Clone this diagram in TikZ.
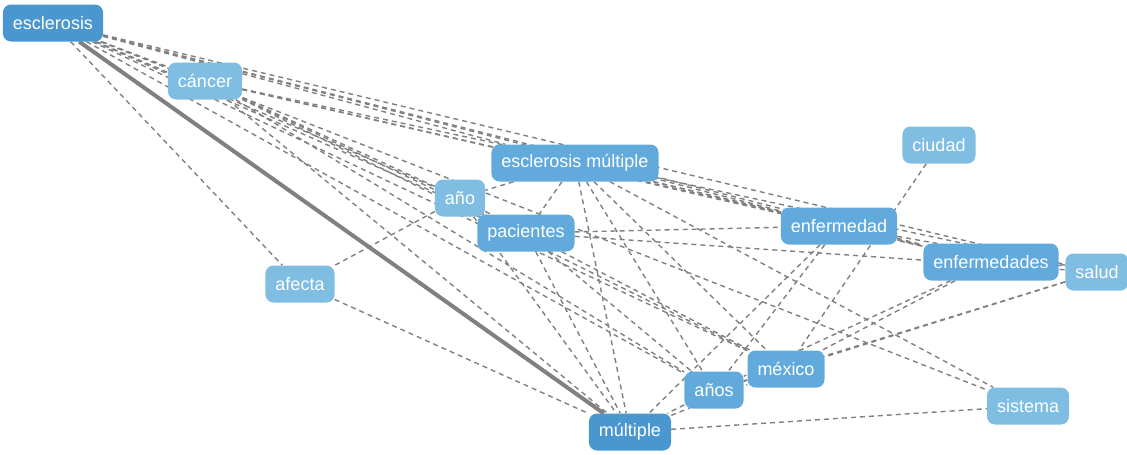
\documentclass[tikz,border=0pt]{standalone}
\usepackage{fontspec}
\setmainfont{Liberation Sans}
\usetikzlibrary{backgrounds}
\definecolor{tagdark}{HTML}{4A97CF}
\definecolor{tagmid}{HTML}{62AADC}
\definecolor{taglight}{HTML}{7FBDE3}
\definecolor{edgegray}{HTML}{808080}
\tikzset{
  tag/.style={rounded corners=8pt, text=white, font=\fontsize{18}{21}\selectfont,
    minimum height=37pt, inner xsep=10pt, fill=#1},
  tag/.default=tagmid,
  link/.style={edgegray, line width=1.4pt, dash pattern=on 5pt off 4pt},
  strong/.style={edgegray, line width=4pt}
}

\begin{document}
\begin{tikzpicture}[x=1pt,y=-1pt]
      \useasboundingbox (0,0) rectangle (1127,455);
      \node [tag=tagdark] (esc) at (53,23) {esclerosis};
      \node [tag=taglight] (can) at (205,81) {cáncer};
      \node [tag] (escm) at (575,163) {esclerosis múltiple};
      \node [tag=taglight] (ano) at (460,198) {año};
      \node [tag] (pac) at (526,233) {pacientes};
      \node [tag=taglight] (afe) at (300,284) {afecta};
      \node [tag=taglight] (ciu) at (939,145) {ciudad};
      \node [tag] (enf) at (839,226) {enfermedad};
      \node [tag] (enfs) at (991,262) {enfermedades};
      \node [tag=taglight] (sal) at (1097,272) {salud};
      \node [tag] (mex) at (786,369) {méxico};
      \node [tag] (anos) at (714,390) {años};
      \node [tag=taglight] (sis) at (1028,406) {sistema};
      \node [tag=tagdark] (mul) at (630,432) {múltiple};

      \begin{scope}[on background layer]
        \draw[strong] (esc) -- (mul);
        \foreach \to in {can,escm,ano,pac,afe,enf,enfs,sal,mex,anos,sis}
          \draw[link] (esc) -- (\to);
        \foreach \to in {enf,enfs,sal,ano,pac,mex,anos,mul}
          \draw[link] (can) -- (\to);
        \foreach \to in {ano,pac,enf,enfs,mex,anos,mul,sis}
          \draw[link] (escm) -- (\to);
        \foreach \to in {afe,pac,mul}
          \draw[link] (ano) -- (\to);
        \foreach \to in {enf,mex,anos,mul,sal}
          \draw[link] (pac) -- (\to);
        \foreach \to in {enfs,anos,mul,sal}
          \draw[link] (enf) -- (\to);
        \foreach \to in {mex,anos}
          \draw[link] (enfs) -- (\to);
        \foreach \to in {mex,anos}
          \draw[link] (sal) -- (\to);
        \draw[link] (afe) -- (mul);
        \draw[link] (ciu) -- (mex);
        \draw[link] (anos) -- (mex);
        \draw[link] (anos) -- (mul);
        \draw[link] (mul) -- (sis);
        \draw[link] (mul) -- (mex);
      \end{scope}
    \end{tikzpicture}
\end{document}
